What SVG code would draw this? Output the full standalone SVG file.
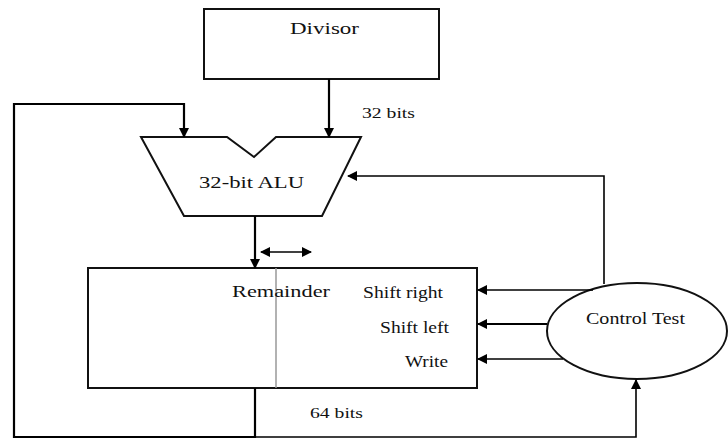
<svg xmlns="http://www.w3.org/2000/svg" width="728" height="440" viewBox="0 0 728 440">
<defs>
<marker id="ah" viewBox="0 0 10 10" refX="9" refY="5" markerWidth="10" markerHeight="10" markerUnits="userSpaceOnUse" orient="auto-start-reverse">
<path d="M0,0 L10,5 L0,10 z" fill="#000"/>
</marker>
<style>
.t{font-family:"Liberation Serif","Times New Roman",serif;font-size:17px;fill:#111}
.s{font-family:"Liberation Serif","Times New Roman",serif;font-size:15px;fill:#111}
.b{fill:#fff;stroke:#111;stroke-width:2}
.w{fill:none;stroke:#000;stroke-width:2.2}
.w2{fill:none;stroke:#000;stroke-width:1.6}
</style>
</defs>
<rect width="728" height="440" fill="#fff"/>
<g id="divisor">
<rect class="b" x="204" y="9" width="235" height="70"/>
<text class="t" x="290" y="34" textLength="69" lengthAdjust="spacingAndGlyphs">Divisor</text>
</g>
<g id="alu">
<path class="b" d="M141,137 L227,137 L254,157 L276,137 L361,137 L322,216 L184,216 Z"/>
<text class="t" x="199" y="188" textLength="105" lengthAdjust="spacingAndGlyphs">32-bit ALU</text>
</g>
<g id="remainder">
<rect class="b" x="88" y="268" width="389" height="120"/>
<line x1="276" y1="268" x2="276" y2="388" stroke="#999" stroke-width="1.5"/>
<text class="t" x="232" y="297" textLength="98" lengthAdjust="spacingAndGlyphs">Remainder</text>
<text class="t" x="363" y="298" textLength="80" lengthAdjust="spacingAndGlyphs">Shift right</text>
<text class="t" x="380" y="333" textLength="69" lengthAdjust="spacingAndGlyphs">Shift left</text>
<text class="t" x="405" y="367" textLength="43" lengthAdjust="spacingAndGlyphs">Write</text>
</g>
<g id="control">
<ellipse class="b" cx="637" cy="331" rx="90" ry="48"/>
<text class="t" x="586" y="324" textLength="99" lengthAdjust="spacingAndGlyphs">Control Test</text>
</g>
<g id="connectors">
<line class="w" x1="329" y1="79" x2="329" y2="137" marker-end="url(#ah)"/>
<polyline class="w" points="255,388 255,437 14,437 14,104 184,104 184,137" marker-end="url(#ah)"/>
<line class="w" x1="255" y1="216" x2="255" y2="268" marker-end="url(#ah)"/>
<line class="w2" x1="261" y1="252" x2="311" y2="252" marker-start="url(#ah)" marker-end="url(#ah)"/>
<polyline class="w2" points="604,284 604,176 348,176" marker-end="url(#ah)"/>
<line class="w2" x1="593" y1="290" x2="478" y2="290" marker-end="url(#ah)"/>
<line class="w" x1="547" y1="324" x2="478" y2="324" marker-end="url(#ah)"/>
<line class="w2" x1="563" y1="359" x2="478" y2="359" marker-end="url(#ah)"/>
<polyline class="w2" points="255,437 636,437 636,380" marker-end="url(#ah)"/>
<text class="s" x="362" y="118" textLength="53" lengthAdjust="spacingAndGlyphs">32 bits</text>
<text class="s" x="310" y="418" textLength="53" lengthAdjust="spacingAndGlyphs">64 bits</text>
</g>
</svg>
